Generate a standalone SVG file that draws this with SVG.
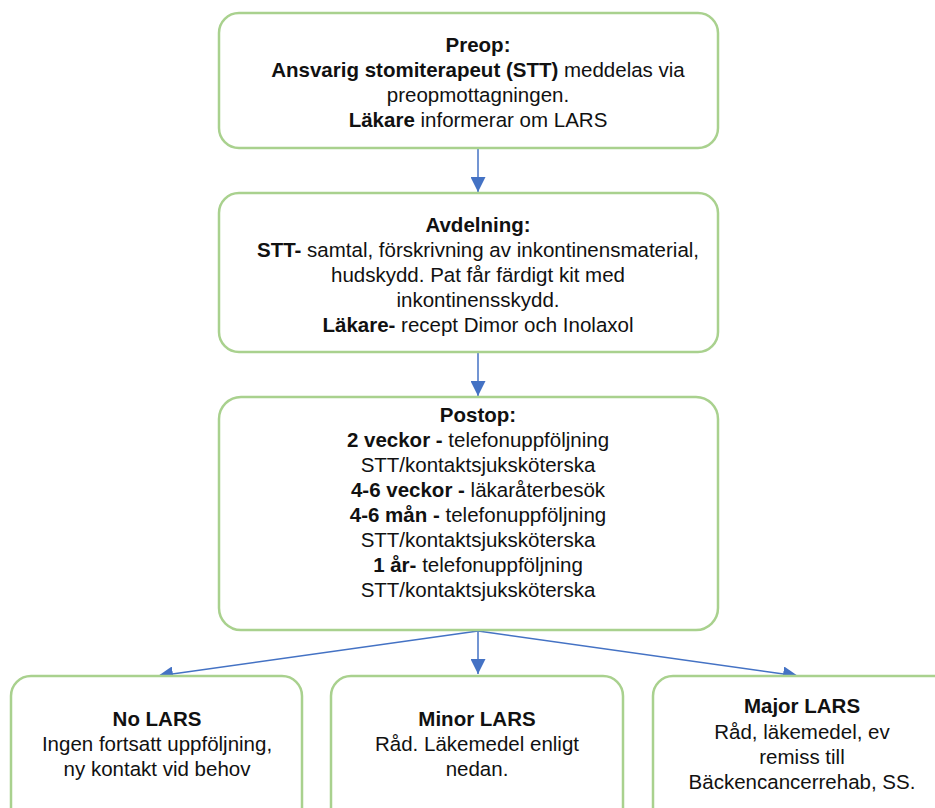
<svg xmlns="http://www.w3.org/2000/svg" width="935" height="808" viewBox="0 0 935 808">
<style>
.box{fill:#fff;stroke:#A9D18E;stroke-width:2.5}
text{font-family:"Liberation Sans",Arial,sans-serif;font-size:20.5px;fill:#111;text-anchor:middle}
.b{font-weight:bold}
.conn{stroke:#4472C4;stroke-width:1.5;fill:none}
</style>
<defs>
<marker id="ah" viewBox="0 0 15 15" refX="15" refY="7.5" markerWidth="15" markerHeight="15" markerUnits="userSpaceOnUse" orient="auto">
<path d="M0,0 L15,7.5 L0,15 z" fill="#4472C4"/>
</marker>
</defs>
<rect width="935" height="808" fill="#fff"/>
<g id="connectors">
<line class="conn" x1="478" y1="148" x2="478" y2="192" marker-end="url(#ah)"/>
<line class="conn" x1="478" y1="352" x2="478" y2="396" marker-end="url(#ah)"/>
<line class="conn" x1="478" y1="631" x2="158" y2="676" marker-end="url(#ah)"/>
<line class="conn" x1="478" y1="631" x2="478" y2="674" marker-end="url(#ah)"/>
<line class="conn" x1="478" y1="631" x2="798" y2="676" marker-end="url(#ah)"/>
</g>
<g id="preop">
<rect class="box" x="219" y="13" width="499" height="135" rx="20"/>
<text x="478" y="52" class="b">Preop:</text>
<text x="478" y="77"><tspan class="b">Ansvarig stomiterapeut (STT)</tspan> meddelas via</text>
<text x="478" y="102">preopmottagningen.</text>
<text x="478" y="127"><tspan class="b">Läkare</tspan> informerar om LARS</text>
</g>
<g id="avdelning">
<rect class="box" x="219" y="193" width="499" height="159" rx="20"/>
<text x="478" y="232" class="b">Avdelning:</text>
<text x="478" y="257"><tspan class="b">STT-</tspan> samtal, förskrivning av inkontinensmaterial,</text>
<text x="478" y="282">hudskydd. Pat får färdigt kit med</text>
<text x="478" y="307">inkontinensskydd.</text>
<text x="478" y="332"><tspan class="b">Läkare-</tspan> recept Dimor och Inolaxol</text>
</g>
<g id="postop">
<rect class="box" x="219" y="397" width="499" height="233" rx="22"/>
<text x="478" y="422" class="b">Postop:</text>
<text x="478" y="447"><tspan class="b">2 veckor -</tspan> telefonuppföljning</text>
<text x="478" y="472">STT/kontaktsjuksköterska</text>
<text x="478" y="497"><tspan class="b">4-6 veckor -</tspan> läkaråterbesök</text>
<text x="478" y="522"><tspan class="b">4-6 mån -</tspan> telefonuppföljning</text>
<text x="478" y="547">STT/kontaktsjuksköterska</text>
<text x="478" y="572"><tspan class="b">1 år-</tspan> telefonuppföljning</text>
<text x="478" y="597">STT/kontaktsjuksköterska</text>
</g>
<g id="nolars">
<rect class="box" x="11" y="676" width="291" height="160" rx="20"/>
<text x="157" y="726" class="b">No LARS</text>
<text x="157" y="751">Ingen fortsatt uppföljning,</text>
<text x="157" y="776">ny kontakt vid behov</text>
</g>
<g id="minorlars">
<rect class="box" x="331" y="676" width="292" height="160" rx="20"/>
<text x="477" y="726" class="b">Minor LARS</text>
<text x="477" y="751">Råd. Läkemedel enligt</text>
<text x="477" y="776">nedan.</text>
</g>
<g id="majorlars">
<rect class="box" x="653" y="676" width="300" height="160" rx="20"/>
<text x="802" y="713" class="b">Major LARS</text>
<text x="802" y="739">Råd, läkemedel, ev</text>
<text x="802" y="764">remiss till</text>
<text x="802" y="789">Bäckencancerrehab, SS.</text>
</g>
</svg>
